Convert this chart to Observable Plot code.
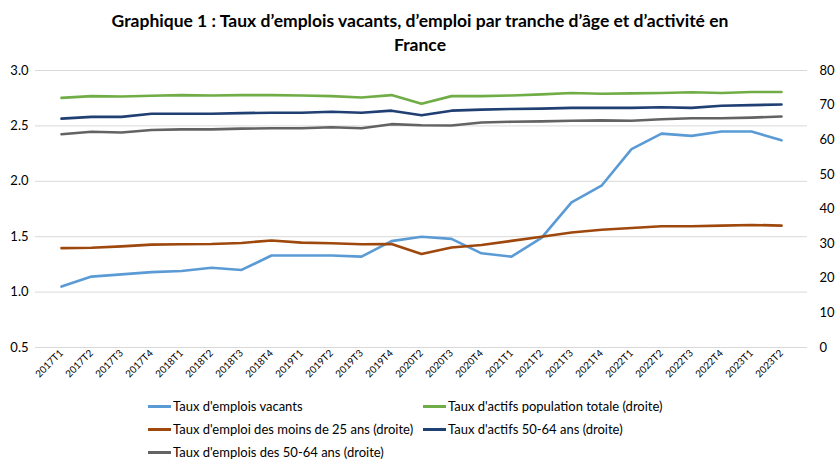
<!DOCTYPE html>
<html>
<head>
<meta charset="utf-8">
<script src="https://cdn.jsdelivr.net/npm/d3@7"></script>
<script src="https://cdn.jsdelivr.net/npm/@observablehq/plot@0.6"></script>
<style>
  html, body { margin: 0; padding: 0; background: #fff; }
  body { width: 840px; height: 472px; position: relative; font-family: Lato, "Open Sans", sans-serif; overflow: hidden; }
  #title { position: absolute; top: 9px; left: 0; width: 840px; text-align: center; font-weight: bold; font-size: 17.5px; line-height: 24px; color: #000; }
  #chart { position: absolute; top: 55px; left: 0; }
  #legend { position: absolute; top: 396px; left: 148px; font-size: 13px; color: #000; }
  .item { position: absolute; white-space: nowrap; display: flex; align-items: center; height: 20px; }
  .sw { display: inline-block; width: 23px; height: 3px; margin-right: 2px; }
</style>
</head>
<body>
<div id="title">Graphique 1 : Taux d’emplois vacants, d’emploi par tranche d’âge et d’activité en<br>France</div>
<div id="chart"></div>
<div id="legend"></div>
<script>
const quarters = ["2017T1","2017T2","2017T3","2017T4","2018T1","2018T2","2018T3","2018T4","2019T1","2019T2","2019T3","2019T4","2020T2","2020T3","2020T4","2021T1","2021T2","2021T3","2021T4","2022T1","2022T2","2022T3","2022T4","2023T1","2023T2"];
// left axis (%)
const vacants = [1.05,1.14,1.16,1.18,1.19,1.22,1.20,1.33,1.33,1.33,1.32,1.46,1.50,1.48,1.35,1.32,1.49,1.81,1.96,2.29,2.43,2.41,2.45,2.45,2.37];
// right axis (%)
const actifsTotal = [72.1,72.6,72.5,72.7,72.9,72.8,72.9,72.9,72.8,72.6,72.2,72.9,70.4,72.6,72.6,72.8,73.1,73.5,73.3,73.4,73.5,73.7,73.5,73.8,73.8];
const emploiMoins25 = [28.7,28.8,29.2,29.7,29.8,29.9,30.2,30.9,30.3,30.1,29.8,29.9,27.0,28.9,29.6,30.8,32.0,33.2,34.0,34.5,35.0,35.0,35.2,35.4,35.2];
const actifs5064 = [66.1,66.6,66.6,67.5,67.5,67.5,67.7,67.8,67.8,68.1,67.8,68.4,67.1,68.4,68.7,68.9,69.0,69.2,69.2,69.2,69.4,69.2,69.8,70.0,70.2];
const emploi5064 = [61.6,62.3,62.1,62.8,63.0,63.0,63.2,63.3,63.3,63.6,63.3,64.5,64.2,64.1,65.0,65.2,65.3,65.5,65.6,65.5,65.9,66.2,66.2,66.4,66.7];
const leftTicks = [0.5,1.0,1.5,2.0,2.5,3.0];
const rightTicks = [0,10,20,30,40,50,60,70,80];

const seriesNames = [
  "Taux d'emplois vacants",
  "Taux d'actifs population totale (droite)",
  "Taux d'emploi des moins de 25 ans (droite)",
  "Taux d'actifs 50-64 ans (droite)",
  "Taux d'emplois des 50-64 ans (droite)"
];
const colors = ["#5b9bd5","#70ad47","#9e480e","#203f73","#636363"];

// map right-axis values onto the left scale: 0 -> 0.5, 80 -> 3.0
const r2l = v => 0.5 + v * 2.5 / 80;

const data = [];
const add = (name, arr, right) => arr.forEach((v, i) => data.push({series: name, q: quarters[i], v: right ? r2l(v) : v}));
add(seriesNames[0], vacants, false);
add(seriesNames[2], emploiMoins25, true);
add(seriesNames[4], emploi5064, true);
add(seriesNames[3], actifs5064, true);
add(seriesNames[1], actifsTotal, true);

const chart = Plot.plot({
  width: 840,
  height: 340,
  marginTop: 15,
  marginLeft: 35,
  marginRight: 33,
  marginBottom: 48,
  style: {fontFamily: "Lato, 'Open Sans', sans-serif", fontSize: "13px", color: "#000", background: "#fff"},
  x: {type: "point", domain: quarters, padding: 0.5, label: null},
  y: {domain: [0.5, 3.0], label: null},
  color: {domain: seriesNames, range: colors},
  marks: [
    Plot.gridY(leftTicks, {stroke: "#d9d9d9", strokeOpacity: 1, strokeWidth: 1}),
    Plot.axisY(leftTicks, {anchor: "left", tickSize: 0, tickPadding: 7, tickFormat: d3.format(".1f"), label: null, fontSize: 13}),
    Plot.axisY(rightTicks.map(r2l), {anchor: "right", tickSize: 0, tickPadding: 12, tickFormat: d => String(Math.round((d - 0.5) * 80 / 2.5)), label: null, fontSize: 13}),
    Plot.axisX({tickSize: 0, tickRotate: -45, tickPadding: 4, fontSize: 9.8, label: null}),
    Plot.line(data, {x: "q", y: "v", z: "series", stroke: "series", strokeWidth: 2.6, strokeLinejoin: "round", strokeLinecap: "round"})
  ]
});
document.getElementById("chart").appendChild(chart);

const legend = document.getElementById("legend");
const pos = [[0,0],[275,0],[0,23],[275,23],[0,46]];
const legendOrder = [0,1,2,3,4];
legendOrder.forEach((k, j) => {
  const el = document.createElement("div");
  el.className = "item";
  el.style.left = pos[j][0] + "px";
  el.style.top = pos[j][1] + "px";
  const sw = document.createElement("span");
  sw.className = "sw";
  sw.style.background = colors[k];
  el.appendChild(sw);
  el.appendChild(document.createTextNode(seriesNames[k]));
  legend.appendChild(el);
});
</script>
</body>
</html>
